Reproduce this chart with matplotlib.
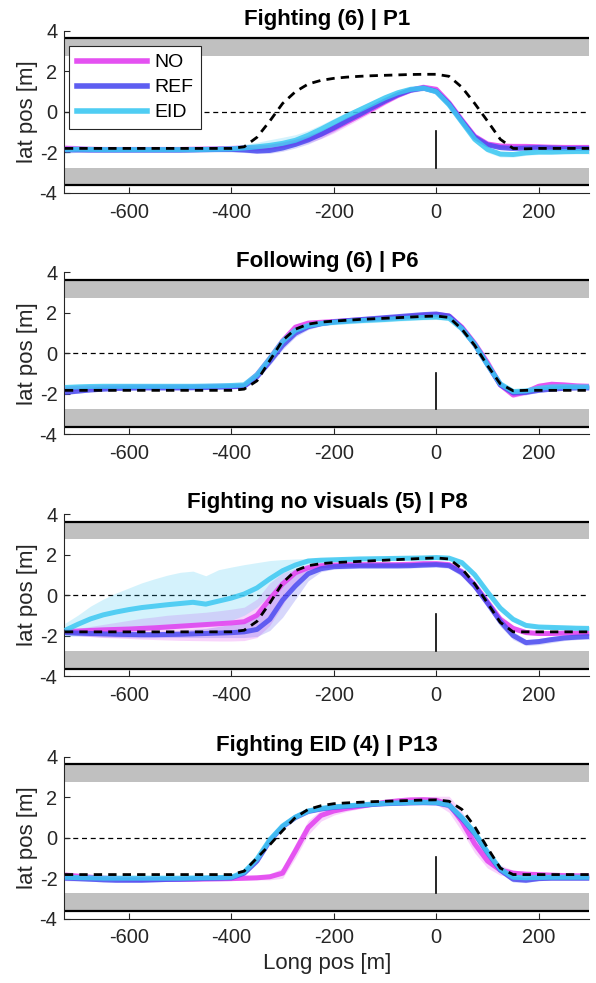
import numpy as np
import matplotlib.pyplot as plt
from matplotlib.lines import Line2D

plt.rcParams['font.family'] = ['Liberation Sans', 'DejaVu Sans']
plt.rcParams['axes.unicode_minus'] = False

# longitudinal sample positions [m]
long_pos = np.arange(-725, 301, 25)

titles = ['Fighting (6) | P1', 'Following (6) | P6',
          'Fighting no visuals (5) | P8', 'Fighting EID (4) | P13']
conditions = ['NO', 'REF', 'EID']
cond_colors = ['#e23ef0', '#4c4cf0', '#3cc8f2']

# ---- P1 ----
p1_target = [-1.80, -1.80, -1.80, -1.80, -1.80, -1.80, -1.80, -1.80, -1.80, -1.80, -1.80, -1.80, -1.80, -1.80,
             -1.72, -1.25, -0.45, 0.42, 1.00, 1.38, 1.56, 1.66, 1.72, 1.76, 1.79, 1.81, 1.83, 1.85, 1.86, 1.86,
             1.76, 1.22, 0.42, -0.45, -1.35, -1.80, -1.82, -1.80, -1.80, -1.80, -1.80, -1.80]
p1_no = [-1.80, -1.82, -1.84, -1.85, -1.85, -1.85, -1.85, -1.85, -1.85, -1.85, -1.84, -1.83, -1.82, -1.80,
         -1.78, -1.78, -1.74, -1.64, -1.50, -1.32, -1.10, -0.82, -0.50, -0.18, 0.15, 0.50, 0.82, 1.08, 1.22, 1.12,
         0.45, -0.40, -1.20, -1.58, -1.68, -1.70, -1.70, -1.72, -1.74, -1.75, -1.75, -1.75]
p1_no_sd = [0.20, 0.15, 0.12, 0.12, 0.12, 0.12, 0.12, 0.12, 0.12, 0.12, 0.12, 0.12, 0.12, 0.12,
            0.12, 0.12, 0.14, 0.16, 0.18, 0.20, 0.22, 0.22, 0.20, 0.18, 0.16, 0.14, 0.12, 0.12, 0.12, 0.12,
            0.14, 0.15, 0.14, 0.12, 0.12, 0.12, 0.12, 0.12, 0.12, 0.12, 0.12, 0.12]
p1_ref = [-1.86, -1.87, -1.88, -1.88, -1.88, -1.88, -1.88, -1.88, -1.88, -1.88, -1.87, -1.86, -1.85, -1.85,
          -1.88, -1.93, -1.90, -1.78, -1.60, -1.38, -1.10, -0.78, -0.44, -0.12, 0.22, 0.55, 0.85, 1.08, 1.18, 1.02,
          0.40, -0.45, -1.25, -1.62, -1.76, -1.80, -1.78, -1.76, -1.78, -1.80, -1.80, -1.80]
p1_ref_sd = [0.15, 0.12, 0.12, 0.12, 0.12, 0.12, 0.12, 0.12, 0.12, 0.12, 0.12, 0.12, 0.12, 0.12,
             0.12, 0.12, 0.14, 0.16, 0.18, 0.20, 0.20, 0.20, 0.18, 0.16, 0.14, 0.12, 0.12, 0.12, 0.12, 0.12,
             0.14, 0.15, 0.14, 0.12, 0.10, 0.10, 0.10, 0.10, 0.10, 0.10, 0.10, 0.10]
p1_eid = [-1.85, -1.84, -1.85, -1.86, -1.86, -1.86, -1.86, -1.86, -1.86, -1.86, -1.86, -1.85, -1.84, -1.82,
          -1.78, -1.72, -1.65, -1.55, -1.40, -1.15, -0.85, -0.52, -0.20, 0.10, 0.40, 0.70, 0.95, 1.12, 1.18, 1.00,
          0.35, -0.50, -1.35, -1.85, -2.08, -2.10, -2.02, -1.98, -1.98, -1.96, -1.95, -1.95]
p1_eid_sd = [0.20, 0.15, 0.12, 0.12, 0.12, 0.12, 0.12, 0.12, 0.12, 0.12, 0.12, 0.12, 0.12, 0.14,
             0.18, 0.22, 0.28, 0.30, 0.28, 0.24, 0.22, 0.20, 0.18, 0.16, 0.15, 0.14, 0.13, 0.12, 0.12, 0.13,
             0.15, 0.15, 0.15, 0.15, 0.14, 0.13, 0.12, 0.12, 0.12, 0.12, 0.12, 0.12]

# ---- P6 ----
p2_target = [-1.82, -1.82, -1.82, -1.82, -1.82, -1.82, -1.82, -1.82, -1.82, -1.82, -1.82, -1.82, -1.82, -1.82,
             -1.76, -1.35, -0.35, 0.65, 1.20, 1.45, 1.55, 1.60, 1.64, 1.68, 1.71, 1.74, 1.77, 1.80, 1.83, 1.85,
             1.78, 1.20, 0.40, -0.60, -1.50, -1.84, -1.82, -1.82, -1.82, -1.82, -1.82, -1.82]
p2_no = [-1.75, -1.72, -1.70, -1.68, -1.66, -1.65, -1.65, -1.65, -1.65, -1.65, -1.64, -1.63, -1.62, -1.62,
         -1.60, -1.05, -0.25, 0.62, 1.30, 1.50, 1.54, 1.58, 1.62, 1.66, 1.70, 1.74, 1.78, 1.83, 1.88, 1.92,
         1.85, 1.30, 0.50, -0.45, -1.55, -2.05, -1.90, -1.62, -1.52, -1.55, -1.60, -1.62]
p2_no_sd = [0.12, 0.10, 0.10, 0.10, 0.10, 0.10, 0.10, 0.10, 0.10, 0.10, 0.10, 0.10, 0.10, 0.10,
            0.10, 0.12, 0.14, 0.16, 0.14, 0.12, 0.10, 0.10, 0.10, 0.10, 0.10, 0.10, 0.10, 0.10, 0.10, 0.10,
            0.10, 0.12, 0.12, 0.12, 0.12, 0.12, 0.14, 0.15, 0.15, 0.12, 0.10, 0.10]
p2_ref = [-1.92, -1.86, -1.80, -1.76, -1.73, -1.71, -1.70, -1.70, -1.70, -1.70, -1.69, -1.68, -1.66, -1.64,
          -1.62, -1.15, -0.40, 0.40, 1.00, 1.32, 1.47, 1.56, 1.62, 1.67, 1.72, 1.77, 1.82, 1.87, 1.92, 1.95,
          1.85, 1.25, 0.45, -0.55, -1.55, -1.95, -1.92, -1.82, -1.76, -1.72, -1.70, -1.70]
p2_ref_sd = [0.12, 0.10, 0.10, 0.10, 0.10, 0.10, 0.10, 0.10, 0.10, 0.10, 0.10, 0.10, 0.10, 0.10,
             0.10, 0.14, 0.18, 0.20, 0.18, 0.14, 0.10, 0.10, 0.10, 0.10, 0.10, 0.10, 0.10, 0.10, 0.10, 0.10,
             0.10, 0.12, 0.12, 0.12, 0.12, 0.12, 0.12, 0.10, 0.10, 0.10, 0.10, 0.10]
p2_eid = [-1.68, -1.65, -1.63, -1.62, -1.62, -1.62, -1.62, -1.62, -1.62, -1.62, -1.62, -1.61, -1.60, -1.58,
          -1.55, -1.05, -0.25, 0.60, 1.15, 1.38, 1.48, 1.54, 1.58, 1.62, 1.65, 1.68, 1.72, 1.75, 1.78, 1.80,
          1.74, 1.22, 0.45, -0.55, -1.50, -1.88, -1.85, -1.72, -1.65, -1.64, -1.65, -1.65]
p2_eid_sd = [0.12, 0.12, 0.10, 0.10, 0.10, 0.10, 0.10, 0.10, 0.10, 0.10, 0.10, 0.10, 0.10, 0.10,
             0.10, 0.12, 0.14, 0.14, 0.14, 0.12, 0.12, 0.12, 0.12, 0.12, 0.12, 0.12, 0.12, 0.12, 0.12, 0.12,
             0.12, 0.12, 0.12, 0.12, 0.12, 0.12, 0.12, 0.10, 0.10, 0.10, 0.10, 0.10]

# ---- P8 (asymmetric spread, given as lower / upper bounds) ----
p3_target = [-1.82, -1.82, -1.82, -1.82, -1.82, -1.82, -1.82, -1.82, -1.82, -1.82, -1.82, -1.82, -1.82, -1.82,
             -1.74, -1.30, -0.40, 0.60, 1.20, 1.45, 1.55, 1.60, 1.63, 1.66, 1.69, 1.72, 1.75, 1.78, 1.81, 1.83,
             1.78, 1.30, 0.55, -0.40, -1.35, -1.82, -1.82, -1.82, -1.82, -1.82, -1.82, -1.82]
p3_no = [-1.80, -1.78, -1.75, -1.72, -1.70, -1.68, -1.65, -1.62, -1.58, -1.54, -1.50, -1.46, -1.42, -1.38,
         -1.32, -1.00, -0.20, 0.55, 1.10, 1.35, 1.45, 1.48, 1.50, 1.50, 1.50, 1.50, 1.50, 1.52, 1.55, 1.55,
         1.50, 1.15, 0.50, -0.35, -1.20, -1.65, -1.85, -1.90, -1.90, -1.88, -1.88, -1.88]
p3_no_lo = [-1.95, -2.00, -2.05, -2.10, -2.12, -2.15, -2.18, -2.20, -2.22, -2.24, -2.25, -2.26, -2.27, -2.27,
            -2.25, -2.10, -1.50, -0.50, 0.60, 1.20, 1.35, 1.38, 1.40, 1.40, 1.40, 1.40, 1.40, 1.42, 1.45, 1.45,
            1.40, 1.00, 0.30, -0.55, -1.40, -1.80, -1.97, -2.00, -2.00, -1.98, -1.98, -1.98]
p3_no_hi = [-1.70, -1.65, -1.55, -1.45, -1.35, -1.25, -1.15, -1.08, -1.00, -0.95, -0.90, -0.85, -0.78, -0.70,
            -0.60, -0.20, 0.60, 1.10, 1.30, 1.45, 1.55, 1.58, 1.60, 1.60, 1.60, 1.60, 1.60, 1.62, 1.65, 1.65,
            1.60, 1.30, 0.70, -0.15, -1.00, -1.50, -1.73, -1.80, -1.80, -1.78, -1.78, -1.78]
p3_ref = [-1.85, -1.88, -1.90, -1.92, -1.94, -1.95, -1.96, -1.96, -1.95, -1.94, -1.92, -1.90, -1.88, -1.86,
          -1.82, -1.70, -1.20, -0.25, 0.45, 1.05, 1.30, 1.40, 1.42, 1.44, 1.44, 1.44, 1.44, 1.45, 1.48, 1.50,
          1.45, 1.10, 0.45, -0.40, -1.30, -2.00, -2.35, -2.30, -2.20, -2.12, -2.08, -2.05]
p3_ref_lo = [-2.00, -2.03, -2.05, -2.07, -2.09, -2.10, -2.11, -2.11, -2.10, -2.10, -2.10, -2.10, -2.10, -2.10,
             -2.10, -2.05, -1.75, -1.10, -0.20, 0.70, 1.15, 1.28, 1.30, 1.32, 1.32, 1.32, 1.32, 1.33, 1.36, 1.38,
             1.32, 0.92, 0.25, -0.60, -1.55, -2.20, -2.50, -2.45, -2.35, -2.25, -2.20, -2.18]
p3_ref_hi = [-1.70, -1.73, -1.75, -1.77, -1.79, -1.80, -1.81, -1.81, -1.78, -1.75, -1.70, -1.65, -1.55, -1.45,
             -1.30, -0.90, -0.30, 0.50, 1.10, 1.30, 1.42, 1.52, 1.54, 1.56, 1.56, 1.56, 1.56, 1.57, 1.60, 1.62,
             1.58, 1.28, 0.65, -0.20, -1.05, -1.80, -2.20, -2.15, -2.05, -1.98, -1.95, -1.92]
p3_eid = [-1.75, -1.45, -1.18, -0.98, -0.84, -0.72, -0.62, -0.55, -0.48, -0.42, -0.36, -0.45, -0.30, -0.15,
          0.05, 0.35, 0.80, 1.20, 1.48, 1.68, 1.72, 1.74, 1.76, 1.78, 1.79, 1.80, 1.81, 1.82, 1.83, 1.85,
          1.82, 1.60, 1.00, 0.15, -0.65, -1.20, -1.50, -1.58, -1.60, -1.62, -1.64, -1.65]
p3_eid_lo = [-2.05, -2.00, -1.95, -1.90, -1.85, -1.80, -1.75, -1.70, -1.65, -1.60, -1.55, -1.50, -1.40, -1.25,
             -1.00, -0.60, 0.00, 0.60, 1.20, 1.52, 1.62, 1.65, 1.67, 1.69, 1.70, 1.71, 1.72, 1.73, 1.74, 1.76,
             1.72, 1.48, 0.85, 0.00, -0.80, -1.32, -1.60, -1.68, -1.70, -1.72, -1.74, -1.75]
p3_eid_hi = [-1.40, -1.00, -0.55, -0.20, 0.10, 0.35, 0.60, 0.80, 0.98, 1.12, 1.18, 0.95, 1.25, 1.38,
             1.50, 1.60, 1.70, 1.75, 1.78, 1.80, 1.82, 1.83, 1.85, 1.87, 1.88, 1.89, 1.90, 1.91, 1.92, 1.94,
             1.92, 1.72, 1.15, 0.30, -0.50, -1.08, -1.40, -1.48, -1.50, -1.52, -1.54, -1.55]

# ---- P13 ----
p4_target = [-1.82, -1.82, -1.82, -1.82, -1.82, -1.82, -1.82, -1.82, -1.82, -1.82, -1.82, -1.82, -1.82, -1.82,
             -1.65, -1.00, -0.35, 0.35, 1.00, 1.40, 1.58, 1.68, 1.72, 1.75, 1.78, 1.80, 1.82, 1.84, 1.86, 1.87,
             1.80, 1.40, 0.55, -0.50, -1.50, -1.82, -1.82, -1.82, -1.82, -1.82, -1.82, -1.82]
p4_no = [-1.85, -1.90, -1.95, -2.00, -2.02, -2.04, -2.05, -2.05, -2.05, -2.05, -2.05, -2.04, -2.03, -2.02,
         -2.00, -1.98, -1.93, -1.75, -0.65, 0.50, 1.10, 1.32, 1.45, 1.55, 1.65, 1.75, 1.82, 1.87, 1.88, 1.85,
         1.65, 0.80, -0.30, -1.15, -1.60, -1.75, -1.80, -1.82, -1.85, -1.87, -1.88, -1.88]
p4_no_sd = [0.18, 0.15, 0.12, 0.10, 0.10, 0.10, 0.10, 0.10, 0.10, 0.10, 0.10, 0.10, 0.10, 0.10,
            0.10, 0.10, 0.15, 0.25, 0.35, 0.35, 0.28, 0.20, 0.15, 0.12, 0.10, 0.10, 0.10, 0.10, 0.12, 0.20,
            0.40, 0.50, 0.45, 0.35, 0.25, 0.15, 0.12, 0.10, 0.10, 0.10, 0.10, 0.10]
p4_ref = [-2.00, -2.02, -2.05, -2.08, -2.10, -2.10, -2.10, -2.08, -2.06, -2.05, -2.03, -2.01, -2.00, -1.98,
          -1.75, -1.15, -0.15, 0.55, 1.00, 1.30, 1.42, 1.50, 1.55, 1.60, 1.64, 1.68, 1.70, 1.72, 1.73, 1.72,
          1.60, 0.95, 0.20, -0.75, -1.60, -2.05, -2.10, -2.02, -2.00, -2.00, -2.00, -2.00]
p4_ref_sd = [0.12, 0.12, 0.10, 0.10, 0.10, 0.10, 0.10, 0.10, 0.10, 0.10, 0.10, 0.10, 0.10, 0.10,
             0.12, 0.14, 0.14, 0.14, 0.12, 0.12, 0.10, 0.10, 0.10, 0.10, 0.10, 0.10, 0.10, 0.10, 0.10, 0.12,
             0.14, 0.16, 0.16, 0.14, 0.14, 0.14, 0.12, 0.10, 0.10, 0.10, 0.10, 0.10]
p4_eid = [-1.95, -1.97, -1.98, -2.00, -2.00, -2.00, -2.00, -2.00, -2.00, -2.00, -1.99, -1.98, -1.97, -1.95,
          -1.70, -1.05, -0.10, 0.58, 1.02, 1.32, 1.45, 1.52, 1.57, 1.62, 1.66, 1.70, 1.72, 1.74, 1.75, 1.74,
          1.62, 1.00, 0.25, -0.70, -1.55, -1.95, -1.98, -1.96, -1.95, -1.95, -1.95, -1.95]
p4_eid_sd = [0.12, 0.10, 0.10, 0.10, 0.10, 0.10, 0.10, 0.10, 0.10, 0.10, 0.10, 0.10, 0.10, 0.10,
             0.12, 0.12, 0.12, 0.12, 0.12, 0.10, 0.10, 0.10, 0.10, 0.10, 0.10, 0.10, 0.10, 0.10, 0.10, 0.10,
             0.12, 0.14, 0.14, 0.12, 0.12, 0.12, 0.10, 0.10, 0.10, 0.10, 0.10, 0.10]


def sym(mean, sd):
    m = np.array(mean)
    s = np.array(sd)
    return (m, m - s, m + s)


panels = [
    (p1_target, [sym(p1_no, p1_no_sd), sym(p1_ref, p1_ref_sd), sym(p1_eid, p1_eid_sd)]),
    (p2_target, [sym(p2_no, p2_no_sd), sym(p2_ref, p2_ref_sd), sym(p2_eid, p2_eid_sd)]),
    (p3_target, [(p3_no, p3_no_lo, p3_no_hi), (p3_ref, p3_ref_lo, p3_ref_hi),
                 (p3_eid, p3_eid_lo, p3_eid_hi)]),
    (p4_target, [sym(p4_no, p4_no_sd), sym(p4_ref, p4_ref_sd), sym(p4_eid, p4_eid_sd)]),
]

txt = '#262626'
fig = plt.figure(figsize=(5.96, 9.83), dpi=100)
bottoms = [0.8037, 0.558, 0.3123, 0.0654]

for k, (target, series) in enumerate(panels):
    ax = fig.add_axes([0.108, bottoms[k], 0.881, 0.1648])
    ax.set_xlim(-726, 299)
    ax.set_ylim(-4, 4)

    # road shoulders and edges
    ax.axhspan(2.75, 3.6, color='#c0c0c0', lw=0, zorder=0)
    ax.axhspan(-3.6, -2.75, color='#c0c0c0', lw=0, zorder=0)
    ax.axhline(3.63, color='black', lw=1.6, zorder=1)
    ax.axhline(-3.63, color='black', lw=1.6, zorder=1)
    ax.axhline(0, color='black', lw=0.9, dashes=(4, 3), zorder=1)
    ax.plot([0, 0], [-0.95, -2.75], color='black', lw=1.2, zorder=1)

    for (mean, lo, hi), col in zip(series, cond_colors):
        ax.fill_between(long_pos, lo, hi, color=col, alpha=0.22, lw=0, zorder=2)
    for (mean, lo, hi), col in zip(series, cond_colors):
        ax.plot(long_pos, mean, color=col, lw=3.6, alpha=0.85, solid_capstyle='butt', zorder=3)

    ax.plot(long_pos, target, color='black', lw=2, dashes=(3, 2.2), zorder=4)

    ax.set_title(titles[k], fontsize=16, fontweight='bold', pad=4)
    ax.set_ylabel('lat pos [m]', fontsize=16, color=txt, labelpad=1)
    ax.set_xticks([-600, -400, -200, 0, 200])
    ax.set_yticks([-4, -2, 0, 2, 4])
    ax.tick_params(direction='in', length=4, width=0.8, colors=txt, labelsize=14.4,
                   top=False, right=False)
    ax.tick_params(axis='x', pad=7)
    ax.tick_params(axis='y', pad=5)
    for side in ['top', 'right']:
        ax.spines[side].set_visible(False)
    for side in ['left', 'bottom']:
        ax.spines[side].set_color(txt)
        ax.spines[side].set_linewidth(0.8)

    if k == 0:
        handles = [Line2D([], [], color=c, lw=4, alpha=0.9) for c in cond_colors]
        leg = ax.legend(handles, conditions, loc='upper left', bbox_to_anchor=(0.009, 0.907),
                        borderaxespad=0, fontsize=14, fancybox=False, framealpha=1,
                        edgecolor=txt, handlelength=3.6, labelspacing=0.38,
                        handletextpad=0.4, borderpad=0.4)
        leg.get_frame().set_linewidth(0.8)
        leg.set_zorder(10)
    if k == 3:
        ax.set_xlabel('Long pos [m]', fontsize=16, color=txt, labelpad=4)

fig.savefig('out.png', dpi=100)
